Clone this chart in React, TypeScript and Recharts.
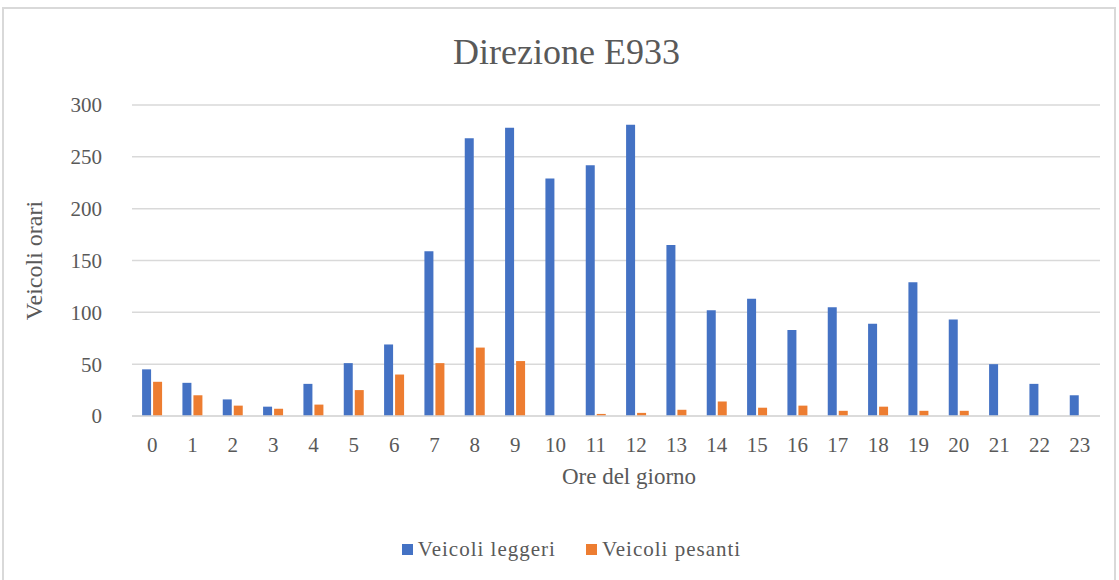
import { Bar, BarChart, CartesianGrid, Label, Legend, XAxis, YAxis } from 'recharts'

const ore = [
  '0', '1', '2', '3', '4', '5', '6', '7', '8', '9', '10', '11',
  '12', '13', '14', '15', '16', '17', '18', '19', '20', '21', '22', '23',
]
const leggeri = [45, 32, 16, 9, 31, 51, 69, 159, 268, 278, 229, 242, 281, 165, 102, 113, 83, 105, 89, 129, 93, 50, 31, 20]
const pesanti = [33, 20, 10, 7, 11, 25, 40, 51, 66, 53, 0, 2, 3, 6, 14, 8, 10, 5, 9, 5, 5, 0, 0, 0]
const yTicks = [0, 50, 100, 150, 200, 250, 300]

const data = ore.map((ora, i) => ({ ora, leggeri: leggeri[i], pesanti: pesanti[i] }))

const font = '"Liberation Serif", "Times New Roman", serif'
const textColor = '#595959'
const gridColor = '#d9d9d9'

function LegendContent({ payload }: { payload?: { value: string; color: string }[] }) {
  return (
    <div
      style={{
        display: 'flex',
        justifyContent: 'center',
        alignItems: 'center',
        height: 40,
        paddingLeft: 24,
        fontFamily: font,
        fontSize: 21,
        letterSpacing: 1,
        color: textColor,
      }}
    >
      {(payload ?? []).map((item, i) => (
        <div key={item.value} style={{ display: 'flex', alignItems: 'center', marginLeft: i ? 30 : 0 }}>
          <span style={{ width: 11, height: 11, background: item.color, marginRight: 5, display: 'inline-block' }} />
          <span>{item.value}</span>
        </div>
      ))}
    </div>
  )
}

export default function App() {
  return (
    <div style={{ position: 'fixed', left: 0, top: 0, width: 1119, height: 580, background: '#fff', overflow: 'hidden' }}>
      <div
        style={{
          position: 'absolute',
          left: 2,
          top: 7,
          width: 1114,
          height: 600,
          border: `2px solid ${gridColor}`,
          boxSizing: 'border-box',
        }}
      />
      <div
        style={{
          position: 'absolute',
          left: 0,
          width: 1133,
          top: 30,
          textAlign: 'center',
          fontFamily: font,
          fontSize: 36,
          color: textColor,
          lineHeight: '44px',
        }}
      >
        Direzione E933
      </div>
      <div style={{ position: 'absolute', left: 0, top: 0 }}>
        <BarChart
          width={1119}
          height={580}
          data={data}
          margin={{ top: 105, right: 19, left: 0, bottom: 0 }}
          barCategoryGap="25%"
          barGap={2}
        >
          <CartesianGrid vertical={false} stroke={gridColor} strokeWidth={1.5} />
          <XAxis
            dataKey="ora"
            height={124}
            tickLine={false}
            tickSize={0}
            tickMargin={21}
            axisLine={{ stroke: gridColor, strokeWidth: 1.5 }}
            tick={{ fontSize: 21, fill: textColor, fontFamily: font }}
            interval={0}
          >
            <Label
              value="Ore del giorno"
              position="insideTop"
              offset={52}
              dx={13}
              style={{ fontSize: 23, fill: textColor, fontFamily: font }}
            />
          </XAxis>
          <YAxis
            width={132}
            domain={[0, 300]}
            ticks={yTicks}
            tickLine={false}
            axisLine={false}
            tickSize={0}
            tickMargin={30}
            tick={{ fontSize: 21, fill: textColor, fontFamily: font }}
          >
            <Label
              value="Veicoli orari"
              angle={-90}
              position="insideLeft"
              offset={33}
              style={{ fontSize: 24, fill: textColor, fontFamily: font, textAnchor: 'middle' }}
            />
          </YAxis>
          <Legend
            verticalAlign="bottom"
            content={<LegendContent />}
            wrapperStyle={{ left: 0, width: 1119, bottom: 11, height: 40 }}
          />
          <Bar dataKey="leggeri" name="Veicoli leggeri" fill="#4472c4" isAnimationActive={false} />
          <Bar dataKey="pesanti" name="Veicoli pesanti" fill="#ed7d31" isAnimationActive={false} />
        </BarChart>
      </div>
    </div>
  )
}
